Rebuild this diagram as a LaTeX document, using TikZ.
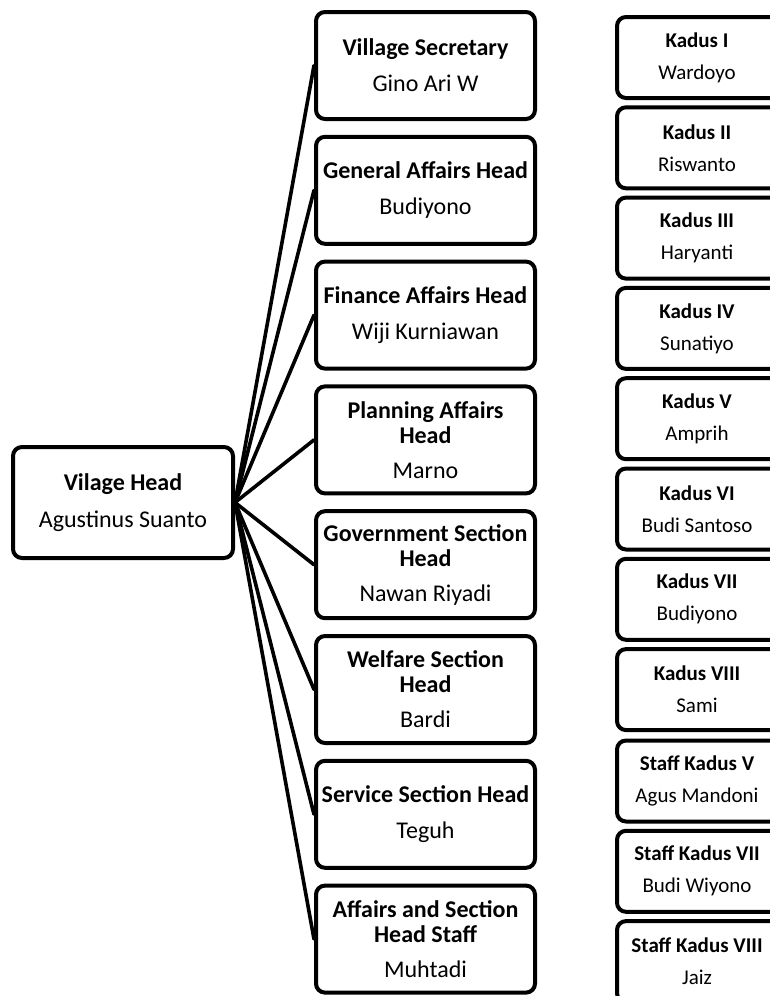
\documentclass[tikz,border=0pt]{standalone}
\usepackage{fontspec}
\setmainfont{Carlito}
\newcommand{\kdtext}[2]{\textbf{#1}\hspace*{40pt}\\[10pt]#2\hspace*{40pt}}
\begin{document}
\begin{tikzpicture}[x=1pt,y=-1pt,
  box/.style={draw=black,line width=4pt,rounded corners=9pt,inner sep=0pt,align=center},
  midbox/.style={box,minimum width=219pt,minimum height=107pt,font=\fontsize{24}{25}\selectfont},
  kbox/.style={box,minimum width=200pt,minimum height=81pt,font=\fontsize{21}{22}\selectfont},
  headbox/.style={box,minimum width=220pt,minimum height=111pt,font=\fontsize{24}{25}\selectfont},
  conn/.style={line width=3.6pt,line cap=round}]
\fill[white] (0,0) rectangle (770,996);
\useasboundingbox (0,0) rectangle (770,996);

\node[headbox] (vh) at (123,502.5) {\textbf{Vilage Head}\\[12pt]Agustinus Suanto};

\node[midbox] (m1) at (425.5,65.5) {\textbf{Village Secretary}\\[11pt]Gino Ari W};
\node[midbox] (m2) at (425.5,190.3) {\textbf{General Affairs Head}\\[11pt]Budiyono};
\node[midbox] (m3) at (425.5,315.1) {\textbf{Finance Affairs Head}\\[11pt]Wiji Kurniawan};
\node[midbox] (m4) at (425.5,439.9) {\textbf{Planning Affairs}\\\textbf{Head}\\[10pt]Marno};
\node[midbox] (m5) at (425.5,564.7) {\textbf{Government Section}\\\textbf{Head}\\[10pt]Nawan Riyadi};
\node[midbox] (m6) at (425.5,689.5) {\textbf{Welfare Section}\\\textbf{Head}\\[10pt]Bardi};
\node[midbox] (m7) at (425.5,814.3) {\textbf{Service Section Head}\\[11pt]Teguh};
\node[midbox] (m8) at (425.5,939.1) {\textbf{Affairs and Section}\\\textbf{Head Staff}\\[10pt]Muhtadi};

\foreach \i in {1,...,8} \draw[conn] (vh.east) -- (m\i.west);

\node[kbox] (k1) at (717,57.5) {\kdtext{Kadus I}{Wardoyo}};
\node[kbox] (k2) at (717,147.8) {\kdtext{Kadus II}{Riswanto}};
\node[kbox] (k3) at (717,238.1) {\kdtext{Kadus III}{Haryanti}};
\node[kbox] (k4) at (717,328.4) {\kdtext{Kadus IV}{Sunatiyo}};
\node[kbox] (k5) at (717,418.7) {\kdtext{Kadus V}{Amprih}};
\node[kbox] (k6) at (717,509.0) {\kdtext{Kadus VI}{Budi Santoso}};
\node[kbox] (k7) at (717,599.3) {\kdtext{Kadus VII}{Budiyono}};
\node[kbox] (k8) at (717,689.6) {\kdtext{Kadus VIII}{Sami}};
\node[kbox] (s5) at (717,781.0) {\kdtext{Staff Kadus V}{Agus Mandoni}};
\node[kbox] (s7) at (717,871.3) {\kdtext{Staff Kadus VII}{Budi Wiyono}};
\node[kbox] (s8) at (717,961.6) {\kdtext{Staff Kadus VIII}{Jaiz}};
\end{tikzpicture}
\end{document}
